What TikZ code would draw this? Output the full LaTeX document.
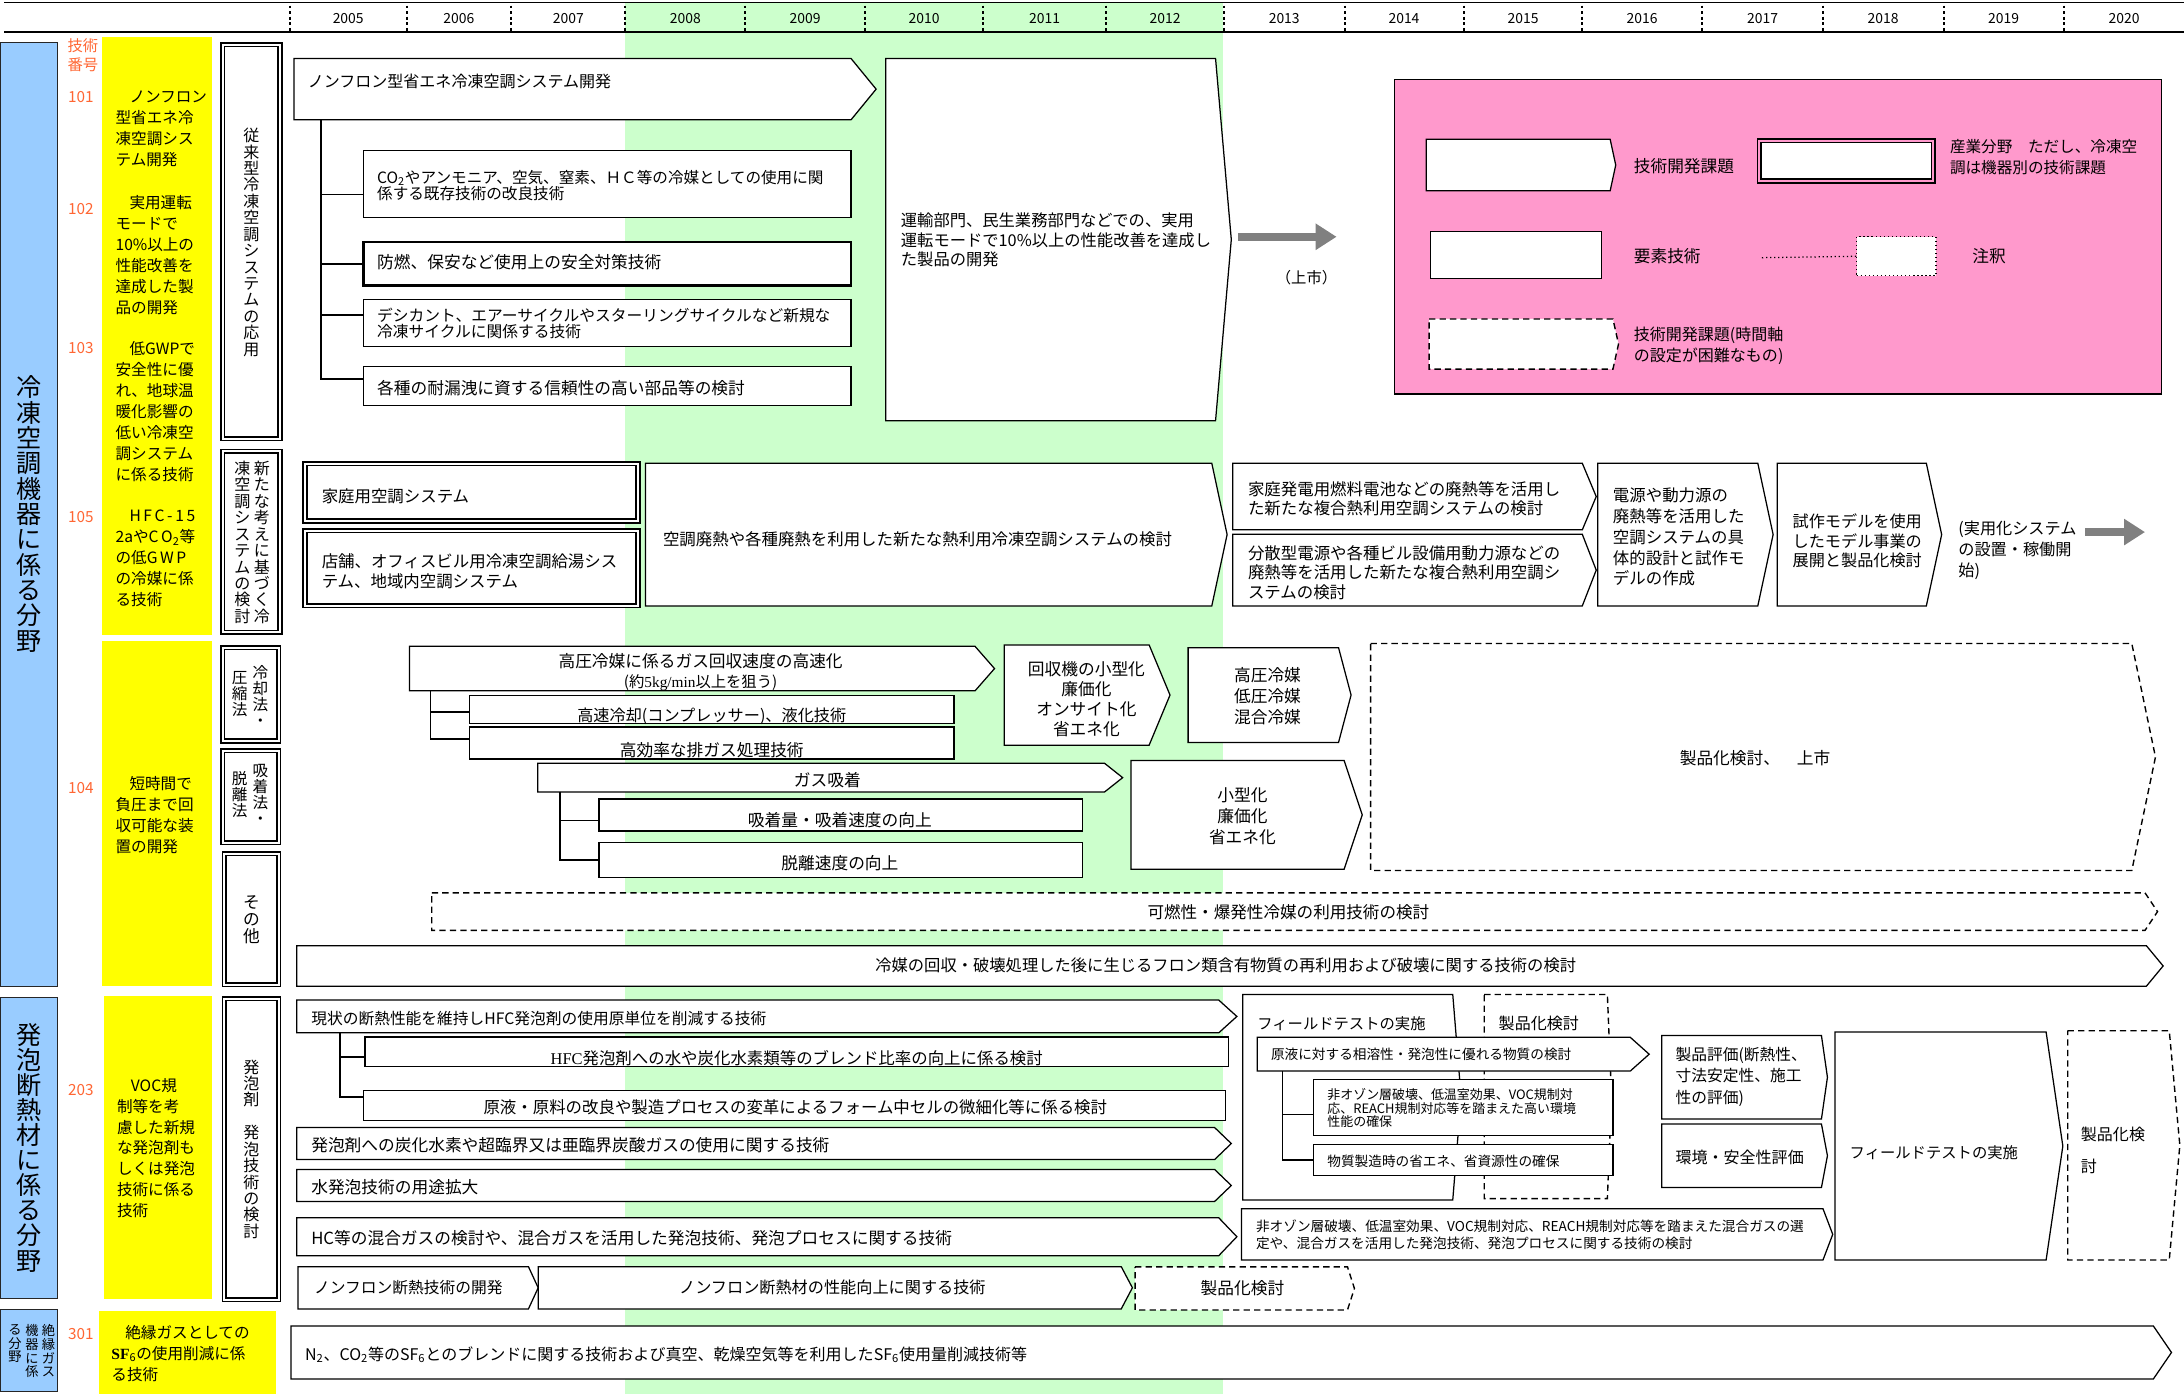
\documentclass[tikz,border=0pt]{standalone}
\usepackage{fontspec}
\setmainfont{Noto Sans CJK JP}
\newfontfamily\serif{Liberation Serif}
\usetikzlibrary{calc,arrows.meta}
\definecolor{cblue}{HTML}{99CCFF}
\definecolor{cyel}{HTML}{FFFF00}
\definecolor{cgreen}{HTML}{CCFFCC}
\definecolor{cpink}{HTML}{FF99CC}
\definecolor{corg}{HTML}{FF6633}
\definecolor{cgray}{HTML}{808080}
\newcommand\fs[2]{\fontsize{#1}{#2}\selectfont}
\newcommand\ind{\hspace*{10pt}}
\ExplSyntaxOn
\NewDocumentCommand\vstack{m}{
  \seq_clear:N \l_tmpa_seq
  \tl_map_inline:nn {#1} { \seq_put_right:Nn \l_tmpa_seq {##1} }
  \seq_use:Nn \l_tmpa_seq {\\}
}
\ExplSyntaxOff
\tikzset{
 pline/.style={draw=black, line width=0.9pt, fill=white, line join=miter},
 pbody/.style={inner sep=0, outer sep=0, draw=none, rectangle},
 rbox/.style={draw=black, line width=0.9pt, fill=white, inner sep=0, outer sep=0, rectangle},
 dbox/.style={rbox, line width=1.1pt, double=white, double distance=1.5pt},
 dsh/.style={dash pattern=on 4.5pt off 3pt, line width=1pt},
 t/.style={inner sep=0, outer sep=0, align=left, font=\fs{11.8}{14}},
 tc/.style={t, align=center},
 vt/.style={inner sep=0, outer sep=0, align=center, font=\fs{11.5}{11.8}},
 tree/.style={draw=black, line width=1.1pt},
 garrow/.style={draw=cgray, line width=6pt, -{Triangle[width=18pt,length=15pt]}},
 num/.style={inner sep=0, outer sep=0, text=corg, font=\fs{11}{14}, align=center},
 yt/.style={inner sep=0, outer sep=0, align=left, font=\fs{11.2}{15}},
 yr/.style={inner sep=0, outer sep=0, font=\fs{10}{12}},
}
\newcommand\penta[7][]{%
  \node[pbody,minimum width={(#5)-(#3)-(#7)},minimum height={(#6)-(#4)}] (#2) at ({((#3)+(#5)-(#7))/2},{((#4)+(#6))/2}) {};
  \coordinate (#2-tip) at ([xshift=#7pt]#2.east);
  \draw[pline,#1] (#2.north west) -- (#2.north east) -- (#2-tip) -- (#2.south east) -- (#2.south west) -- cycle;
}
\newcommand\boxn[6][]{%
  \node[rbox,#1,minimum width={(#5)-(#3)},minimum height={(#6)-(#4)}] (#2) at ({((#3)+(#5))/2},{((#4)+(#6))/2}) {};
}
\begin{document}
\begin{tikzpicture}[x=1pt,y=-1pt]
\useasboundingbox (0,0) rectangle (1568,1001);
\fill[cgreen] (449,2) rectangle (878,1001);
% header
\draw[line width=1pt] (3,2) -- (1568,2);
\draw[line width=1.6pt] (3,23) -- (1568,23);
\foreach \xx in {208,292.5,366.6,449,535,621,706,794,879,965.5,1051,1136,1222,1309,1395.5,1481.7}
  \draw[line width=1.4pt, dash pattern=on 2pt off 2pt] (\xx,4) -- (\xx,22);
\foreach \yy/\xx in {2005/250,2006/329.5,2007/408,2008/492,2009/578,2010/663.5,2011/750,2012/836.5,2013/922,2014/1008,2015/1093.5,2016/1179,2017/1265.5,2018/1352,2019/1438.5,2020/1525}
  \node[yr] (y\yy) at (\xx,13) {\yy};

% left column
\boxn[fill=cblue,draw=black!85,line width=0.8pt]{blue1}{0}{30.6}{41}{708}
\boxn[fill=cblue,draw=black!85,line width=0.8pt]{blue2}{0}{716}{41}{932.5}
\boxn[fill=cblue,draw=black!85,line width=0.8pt]{blue3}{0}{940}{41}{999}
\node[vt,font=\fs{18}{18.2}] (tblue1) at (21,369) {\vstack{冷凍空調機器に係る分野}};
\node[vt,font=\fs{18}{18}] (tblue2) at (21,824) {\vstack{発泡断熱材に係る分野}};
\node[vt,font=\fs{9.5}{9.8},anchor=north] (tblue3a) at (34.8,951) {\vstack{絶縁ガス}};
\node[vt,font=\fs{9.5}{9.8},anchor=north] (tblue3b) at (22.9,951) {\vstack{機器に係}};
\node[vt,font=\fs{9.5}{9.8},anchor=north] (tblue3c) at (10.8,951) {\vstack{る分野}};

\node[num] (tnum) at (59.5,39.5) {技術\\番号};
\node[num] (n101) at (58,70) {101};
\node[num] (n102) at (58,150) {102};
\node[num] (n103) at (58,250) {103};
\node[num] (n105) at (58,371) {105};
\node[num] (n104) at (58,566) {104};
\node[num] (n203) at (58,782.5) {203};
\node[num] (n301) at (58,958) {301};

\boxn[fill=cyel,draw=none]{yel1}{73}{26.7}{152}{456}
\boxn[fill=cyel,draw=none]{yel2}{73}{460}{152}{708}
\boxn[fill=cyel,draw=none]{yel3}{75}{715}{152}{932.6}
\boxn[fill=cyel,draw=none]{yel4}{71}{941}{198}{1001}
\node[yt,anchor=west] (y101) at (83,92.7) {\ind ノンフロン\\型省エネ冷\\凍空調シス\\テム開発};
\node[yt,anchor=west] (y102) at (83,183.3) {\ind 実用運転\\モードで\\10\%以上の\\性能改善を\\達成した製\\品の開発};
\node[yt,anchor=west] (y103) at (83,295.5) {\ind 低GWPで\\安全性に優\\れ、地球温\\暖化影響の\\低い冷凍空\\調システム\\に係る技術};
\node[yt,anchor=west] (y105) at (83,401) {\ind H\,F\,C\,-\,1\,5\\2aやC\,O\textsubscript{2}等\\の低G\,W\,P\\の冷媒に係\\る技術};
\node[yt,anchor=west] (y104) at (83,585) {\ind 短時間で\\負圧まで回\\収可能な装\\置の開発};
\node[yt,anchor=west] (y203) at (84,824.3) {\ind VOC規\\制等を考\\慮した新規\\な発泡剤も\\しくは発泡\\技術に係る\\技術};
\node[yt,anchor=west] (y301) at (80,971.5) {\ind 絶縁ガスとしての\\{\serif\bfseries SF}\textsubscript{6}の使用削減に係\\る技術};

% double boxes
\boxn[dbox]{D1}{160}{32}{201}{315}
\boxn[dbox]{D2}{160}{324}{201}{454}
\boxn[dbox]{D3}{160}{465}{200}{532}
\boxn[dbox]{D4}{160}{539}{200}{605}
\boxn[dbox]{D5}{161}{613}{200}{707}
\boxn[dbox]{D6}{161}{717}{200}{933}
\node[vt] (td1) at (180.5,174) {\vstack{従来型冷凍空調システムの応用}};
\node[vt,anchor=north] (td2a) at (188,331) {\vstack{新たな考えに基づく冷}};
\node[vt,anchor=north] (td2b) at (174,331) {\vstack{凍空調システムの検討}};
\node[vt,anchor=north,font=\fs{11.2}{11.4}] (td3a) at (187,478) {\vstack{冷却法・}};
\node[vt,anchor=north,font=\fs{11.2}{11.4}] (td3b) at (172,482) {\vstack{圧縮法}};
\node[vt,anchor=north,font=\fs{11.2}{11.4}] (td4a) at (187,549) {\vstack{吸着法・}};
\node[vt,anchor=north,font=\fs{11.2}{11.4}] (td4b) at (172,554) {\vstack{脱離法}};
\node[vt,font=\fs{12}{12.2}] (td5) at (180.5,660) {\vstack{その他}};
\node[vt] (td6) at (180.5,825) {\vstack{発泡剤　発泡技術の検討}};

% ===== 101 group
\penta{A101}{211}{42}{629}{86}{18}
\boxn{B1}{261}{108}{611}{156}
\boxn[line width=1.6pt]{B2}{261}{174}{611}{205}
\boxn{B3}{261}{215}{611}{249}
\boxn{B4}{261}{263}{611}{291}
\draw[tree] ([xshift=19.4pt]A101.south west) |- ([yshift=-7.5pt]B1.west);
\draw[tree] ([xshift=19.4pt]A101.south west) |- (B2.west);
\draw[tree] ([xshift=19.4pt]A101.south west) |- ([yshift=6pt]B3.west);
\draw[tree] ([xshift=19.4pt]A101.south west) |- ([yshift=5pt]B4.west);
\node[t,anchor=west,font=\fs{11.5}{14}] (tA101) at (221,58.6) {ノンフロン型省エネ冷凍空調システム開発};
\node[t,anchor=west,font=\fs{11.2}{11.6}] (tB1) at (270.8,133) {CO\textsubscript{2}やアンモニア、空気、窒素、ＨＣ等の冷媒としての使用に関\\係する既存技術の改良技術};
\node[t,anchor=west,font=\fs{12}{14}] (tB2) at (270.8,188) {防燃、保安など使用上の安全対策技術};
\node[t,anchor=west,font=\fs{11.3}{12}] (tB3) at (270.8,232.3) {デシカント、エアーサイクルやスターリングサイクルなど新規な\\冷凍サイクルに関係する技術};
\node[t,anchor=west,font=\fs{12}{14}] (tB4) at (270.8,279) {各種の耐漏洩に資する信頼性の高い部品等の検討};

\penta{P102}{636}{42}{884}{302}{11.3}
\node[t,anchor=west,font=\fs{11.7}{14}] (tP102) at (646.8,172.5) {運輸部門、民生業務部門などでの、実用\\運転モードで10\%以上の性能改善を達成し\\た製品の開発};
\coordinate (g1e) at (959.6,170);
\draw[garrow] ([xshift=5pt,yshift=2pt]P102-tip) -- (g1e);
\node[t,font=\fs{11}{13}] (tjoushi) at (938,199) {（上市）};

% ===== legend
\boxn[fill=cpink,line width=1pt]{pink}{1001}{57}{1552}{283}
\penta{LP1}{1024}{100}{1160}{137}{4}
\node[t,anchor=west,font=\fs{12}{14}] (tLP1) at (1173,119) {技術開発課題};
\boxn[dbox,double=cpink]{LD}{1263}{101}{1388}{130}
\node[t,anchor=west,font=\fs{11.2}{15}] (tLD) at (1400,112.5) {産業分野　ただし、冷凍空\\調は機器別の技術課題};
\boxn{LB}{1027}{166}{1150}{200}
\node[t,anchor=west,font=\fs{12}{14}] (tLB) at (1173,184) {要素技術};
\boxn[dotted]{LN}{1333}{170}{1390}{198}
\coordinate (lnl) at (1265,185);
\draw[dotted,line width=0.9pt] (lnl) -- (LN.west);
\node[t,anchor=west,font=\fs{12}{14}] (tLN) at (1416,184) {注釈};
\penta[dsh]{LPD}{1026}{229}{1162}{265}{4}
\node[t,anchor=west,font=\fs{11.5}{15}] (tLPD) at (1173,248) {技術開発課題(時間軸\\の設定が困難なもの)};

% ===== new systems
\boxn[dbox]{H1}{219}{333}{458}{374}
\boxn[dbox]{H2}{219}{381}{458}{435}
\node[t,anchor=west] (tH1) at (231,356) {家庭用空調システム};
\node[t,anchor=west,font=\fs{11.8}{14.5}] (tH2) at (231,410) {店舗、オフィスビル用冷凍空調給湯シス\\テム、地域内空調システム};
\penta{Pkucho}{463.5}{332.6}{881}{435}{11}
\node[t,anchor=west] (tPkucho) at (476,387) {空調廃熱や各種廃熱を利用した新たな熱利用冷凍空調システムの検討};
\penta{Pkatei}{885}{332.6}{1146}{380.4}{10}
\node[t,anchor=west,font=\fs{11.8}{14}] (tPkatei) at (896,358) {家庭発電用燃料電池などの廃熱等を活用し\\た新たな複合熱利用空調システムの検討};
\penta{Pbunsan}{885}{383.6}{1146}{435}{10}
\node[t,anchor=west,font=\fs{11.8}{14}] (tPbunsan) at (896,411) {分散型電源や各種ビル設備用動力源などの\\廃熱等を活用した新たな複合熱利用空調シ\\ステムの検討};
\penta{Pdengen}{1147}{332.6}{1273}{435}{11}
\node[t,anchor=west,font=\fs{11.8}{15}] (tPdengen) at (1158,385.5) {電源や動力源の\\廃熱等を活用した\\空調システムの具\\体的設計と試作モ\\デルの作成};
\penta{Pshisaku}{1276}{332.6}{1394}{435}{11}
\node[t,anchor=west,font=\fs{11.6}{14}] (tPshisaku) at (1287,388.6) {試作モデルを使用\\したモデル事業の\\展開と製品化検討};
\node[t,anchor=west,font=\fs{11.6}{15}] (tjitsuyo) at (1406,395) {(実用化システム\\の設置・稼働開\\始)};
\coordinate (g2s) at (1497,382);
\coordinate (g2e) at (1540,382);
\draw[garrow] (g2s) -- (g2e);

% ===== 104 recovery
\penta{Pkoatsu}{294}{464}{714}{496}{14}
\boxn{Bkosoku}{337}{499.5}{685}{519.6}
\boxn{Bkokoritsu}{337}{522}{685}{545}
\draw[tree] ([xshift=15pt]Pkoatsu.south west) |- ([yshift=-1.5pt]Bkosoku.west);
\draw[tree] ([xshift=15pt]Pkoatsu.south west) |- ([yshift=2.8pt]Bkokoritsu.west);
\penta{Pgas}{386}{548}{806}{568.6}{13}
\boxn{Bkyu}{430}{573.7}{777}{596.6}
\boxn{Bdatsu}{430}{605}{777}{630}
\draw[tree] ([xshift=16pt]Pgas.south west) |- ([yshift=-4pt]Bkyu.west);
\draw[tree] ([xshift=16pt]Pgas.south west) |- (Bdatsu.west);
\node[tc,font=\fs{12}{14}] (tPkoatsu) at (503,482.5) {高圧冷媒に係るガス回収速度の高速化\\{\fs{11}{13}(約{\serif 5kg/min}以上を狙う)}};
\node[tc,font=\fs{11.6}{14}] (tBkosoku) at (511,514) {高速冷却(コンプレッサー)、液化技術};
\node[tc,font=\fs{12}{14}] (tBkokoritsu) at (511,538.5) {高効率な排ガス処理技術};
\node[tc,font=\fs{12}{14}] (tPgas) at (594,560) {ガス吸着};
\node[tc,font=\fs{12}{14}] (tBkyu) at (603,589) {吸着量・吸着速度の向上};
\node[tc,font=\fs{12}{14}] (tBdatsu) at (603,619.5) {脱離速度の向上};
\penta{Pkaishu}{721}{463}{840}{535}{15}
\node[tc,font=\fs{12}{14.4}] (tPkaishu) at (780,502) {回収機の小型化\\廉価化\\オンサイト化\\省エネ化};
\penta{Preibai}{853}{465}{970}{533}{9}
\node[tc,font=\fs{12}{15}] (tPreibai) at (910,500) {高圧冷媒\\低圧冷媒\\混合冷媒};
\penta{Pkogata}{812}{546}{978}{624}{13}
\node[tc,font=\fs{12}{15}] (tPkogata) at (892,586) {小型化\\廉価化\\省エネ化};
\penta[dsh]{PDseihin}{984}{462}{1547.5}{625}{17}
\node[tc,font=\fs{12}{14}] (tPDseihin) at (1260,544) {製品化検討、　上市};
\penta[dsh]{PDkanen}{310}{641}{1549}{668}{9}
\node[tc,font=\fs{11.9}{14}] (tPDkanen) at (925,655) {可燃性・爆発性冷媒の利用技術の検討};
\penta{Pfreon}{213}{679}{1553}{708}{12}
\node[tc,font=\fs{11.7}{14}] (tPfreon) at (880,693) {冷媒の回収・破壊処理した後に生じるフロン類含有物質の再利用および破壊に関する技術の検討};

% ===== 203 foam
\penta{Pgenjo}{213}{718}{888}{741.5}{13}
\boxn{Bhfc}{262}{744.5}{882}{765.6}
\boxn{Bgeneki}{261}{783}{880}{804.5}
\draw[tree] ([xshift=31pt]Pgenjo.south west) |- ([yshift=-4pt]Bhfc.west);
\draw[tree] ([xshift=31pt]Pgenjo.south west) |- ([yshift=6pt]Bgeneki.west);
\node[t,anchor=west,font=\fs{11.3}{14}] (tPgenjo) at (223.5,731.5) {現状の断熱性能を維持しHFC発泡剤の使用原単位を削減する技術};
\node[tc,font=\fs{11.8}{14}] (tBhfc) at (572,760) {{\serif HFC}発泡剤への水や炭化水素類等のブレンド比率の向上に係る検討};
\node[tc,font=\fs{11.8}{14}] (tBgeneki) at (571,795) {原液・原料の改良や製造プロセスの変革によるフォーム中セルの微細化等に係る検討};
\penta{Phappo}{213}{809.5}{884}{832.5}{12}
\node[t,anchor=west,font=\fs{12}{14}] (tPhappo) at (223.5,822) {発泡剤への炭化水素や超臨界又は亜臨界炭酸ガスの使用に関する技術};
\penta{Pmizu}{213}{839.6}{884}{862.6}{12}
\node[t,anchor=west,font=\fs{12}{14}] (tPmizu) at (223.5,852) {水発泡技術の用途拡大};
\penta{Phc}{213}{874.3}{888}{901.5}{13}
\node[t,anchor=west,font=\fs{12}{14}] (tPhc) at (223.5,889) {HC等の混合ガスの検討や、混合ガスを活用した発泡技術、発泡プロセスに関する技術};
\penta{Pnf1}{214}{909.4}{386.4}{939.7}{7}
\node[t,anchor=west,font=\fs{11.3}{14}] (tPnf1) at (225.5,924.5) {ノンフロン断熱技術の開発};
\penta{Pnf2}{386.4}{909.4}{813}{939.7}{8}
\node[tc,font=\fs{11.6}{14}] (tPnf2) at (597.6,924) {ノンフロン断熱材の性能向上に関する技術};
\penta[dsh]{PDnf3}{815}{909.5}{972.4}{940.5}{5}
\node[t,anchor=west,font=\fs{12}{14}] (tPDnf3) at (862,925) {製品化検討};

\penta{Pfield1}{892.3}{714}{1049}{861.5}{6}
\node[t,anchor=west,font=\fs{11}{14}] (tPfield1) at (902.7,735) {フィールドテストの実施};
\penta[dsh]{PDseihin2}{1065.6}{714}{1157}{860.5}{3}
\node[t,anchor=west,font=\fs{11.5}{14}] (tPDseihin2) at (1076,735) {製品化検討};
\penta{Pgeneki2}{902.7}{744.7}{1184}{769}{13.6}
\node[t,anchor=west,font=\fs{9.8}{12}] (tPgeneki2) at (912.5,756.8) {原液に対する相溶性・発泡性に優れる物質の検討};
\boxn{Bnonozone}{943}{775}{1158}{815.4}
\boxn{Bbusshitsu}{943}{821.5}{1158}{844}
\draw[tree] ([xshift=17.9pt]Pgeneki2.south west) |- ([yshift=-5pt]Bnonozone.west);
\draw[tree] ([xshift=17.9pt]Pgeneki2.south west) |- (Bbusshitsu.west);
\node[t,anchor=west,font=\fs{9.3}{9.6}] (tBnonozone) at (953,795.5) {非オゾン層破壊、低温室効果、VOC規制対\\応、REACH規制対応等を踏まえた高い環境\\性能の確保};
\node[t,anchor=west,font=\fs{9.8}{12}] (tBbusshitsu) at (953,834) {物質製造時の省エネ、省資源性の確保};
\penta{Pseihyo}{1193}{743.5}{1312}{803.3}{4.3}
\node[t,anchor=west,font=\fs{11.3}{15.5}] (tPseihyo) at (1203,773) {製品評価(断熱性、\\寸法安定性、施工\\性の評価)};
\penta{Pkankyo}{1193}{807}{1312}{852.5}{4.3}
\node[t,anchor=west,font=\fs{11.5}{14}] (tPkankyo) at (1203,830.7) {環境・安全性評価};
\penta{Pfield2}{1317.5}{741}{1481}{904.6}{12}
\node[t,anchor=west,font=\fs{11}{14}] (tPfield2) at (1328,827.6) {フィールドテストの実施};
\penta[dsh]{PDseihin3}{1484.5}{740}{1565}{904.6}{7.6}
\node[t,anchor=west,font=\fs{11.5}{23.5}] (tPDseihin3) at (1494,826) {製品化検\\討};
\penta{Pnonozone2}{891.4}{867.8}{1315.8}{904.6}{7}
\node[t,anchor=west,font=\fs{9.8}{12.5}] (tPnonozone2) at (901.8,886.3) {非オゾン層破壊、低温室効果、VOC規制対応、REACH規制対応等を踏まえた混合ガスの選\\定や、混合ガスを活用した発泡技術、発泡プロセスに関する技術の検討};

% ===== 301
\penta{Pn2}{209}{952}{1559}{990}{13}
\node[t,anchor=west,font=\fs{11.5}{14}] (tPn2) at (219,972.5) {N\textsubscript{2}、CO\textsubscript{2}等のSF\textsubscript{6}とのブレンドに関する技術および真空、乾燥空気等を利用したSF\textsubscript{6}使用量削減技術等};
\end{tikzpicture}
\end{document}
